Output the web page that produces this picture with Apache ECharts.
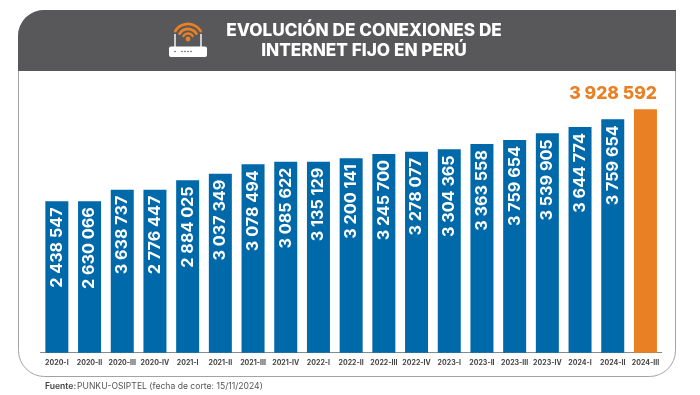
<!DOCTYPE html>
<html><head><meta charset="utf-8">
<style>html,body{margin:0;padding:0;background:#fff}#c{width:700px;height:395px}</style>
<script src="https://cdn.jsdelivr.net/npm/echarts@6/dist/echarts.min.js"></script>
</head><body><div id="c"></div>
<script>
const categories = ['2020-I','2020-II','2020-III','2020-IV','2021-I','2021-II','2021-III','2021-IV','2022-I','2022-II','2022-III','2022-IV','2023-I','2023-II','2023-III','2023-IV','2024-I','2024-II','2024-III'];
// bar heights as drawn in the picture
const barValues = [2443000,2443000,2631000,2631000,2782000,2889000,3041000,3083000,3083000,3138000,3207000,3244000,3283000,3368000,3433000,3541000,3643000,3767000,3928592];
// numbers as printed on the bars
const printedLabels = ['2 438 547','2 630 066','3 638 737','2 776 447','2 884 025','3 037 349','3 078 494','3 085 622','3 135 129','3 200 141','3 245 700','3 278 077','3 304 365','3 363 558','3 759 654','3 539 905','3 644 774','3 759 654','3 928 592'];
const titleLines = ['EVOLUCIÓN DE CONEXIONES DE','INTERNET FIJO EN PERÚ'];
const sourceBold = 'Fuente:';
const sourceText = 'PUNKU-OSIPTEL (fecha de corte: 15/11/2024)';
const BLUE='#0069AA', ORANGE='#E98024', FONT='Inter';
const last = categories.length-1;

const chart = echarts.init(document.getElementById('c'),null,{renderer:'canvas'});
const wifi = (r,lw)=>({type:'arc',z:1,shape:{cx:188,cy:39,r:r,startAngle:-Math.PI*0.82,endAngle:-Math.PI*0.18},style:{stroke:ORANGE,fill:null,lineWidth:lw,lineCap:'round'}});
const dot = x=>({type:'circle',z:1,shape:{cx:x,cy:51.5,r:0.8},style:{fill:'#58585a'}});
chart.setOption({
  animation:false,
  grid:{left:40.5,width:621.3,top:109.3,height:243.4},
  xAxis:{type:'category',data:categories,
    axisLine:{lineStyle:{color:'#8a8a8a',width:1}},axisTick:{show:false},
    axisLabel:{interval:0,color:'#444',fontFamily:FONT,fontWeight:700,fontSize:7,margin:7}},
  yAxis:{type:'value',min:0,max:3928592,show:false,splitLine:{show:false}},
  graphic:{elements:[
    {type:'rect',z:0,shape:{x:18.5,y:10.5,width:657,height:366,r:[26,0,26,26]},style:{fill:'#fff',stroke:'#a3a3a3',lineWidth:1}},
    {type:'rect',z:0,shape:{x:18,y:10,width:658,height:61,r:[26,0,0,0]},style:{fill:'#58585a'}},
    {type:'text',z:1,x:364,y:31,style:{text:titleLines[0],fill:'#fff',font:'800 17.2px '+FONT,align:'center',verticalAlign:'middle'}},
    {type:'text',z:1,x:364,y:51,style:{text:titleLines[1],fill:'#fff',font:'800 17.2px '+FONT,align:'center',verticalAlign:'middle'}},
    wifi(15,2.8),wifi(10,2.8),wifi(5.5,2.4),
    {type:'circle',z:1,shape:{cx:188,cy:39,r:2.4},style:{fill:ORANGE}},
    {type:'line',z:1,shape:{x1:175,y1:34,x2:175,y2:47},style:{stroke:'#fff',lineWidth:1.4}},
    {type:'line',z:1,shape:{x1:201,y1:34,x2:201,y2:47},style:{stroke:'#fff',lineWidth:1.4}},
    {type:'rect',z:1,shape:{x:169,y:46.5,width:38,height:10.5,r:2},style:{fill:'#fff'}},
    dot(175),dot(182),dot(185),dot(188),dot(191),
    {type:'text',z:1,x:45,y:386.5,style:{text:sourceBold,fill:'#444',font:'600 8.6px '+FONT,verticalAlign:'middle'}},
    {type:'text',z:1,x:77,y:386.5,style:{text:sourceText,fill:'#555',font:'400 8.6px '+FONT,verticalAlign:'middle'}}
  ]},
  series:[{type:'bar',barWidth:23,
    data:barValues.map((v,i)=>({
      value:v,
      itemStyle:{color:i===last?ORANGE:BLUE},
      label:i===last?{show:true,position:[23,-7],align:'right',verticalAlign:'bottom',rotate:0,color:ORANGE,fontSize:17.5,fontWeight:800,fontFamily:FONT,formatter:()=>printedLabels[i]}:undefined
    })),
    label:{show:true,position:'insideTop',distance:6,rotate:90,align:'right',verticalAlign:'middle',color:'#fff',fontFamily:FONT,fontWeight:700,fontSize:16.2,
      formatter:p=>printedLabels[p.dataIndex]}
  }]
});
</script></body></html>
